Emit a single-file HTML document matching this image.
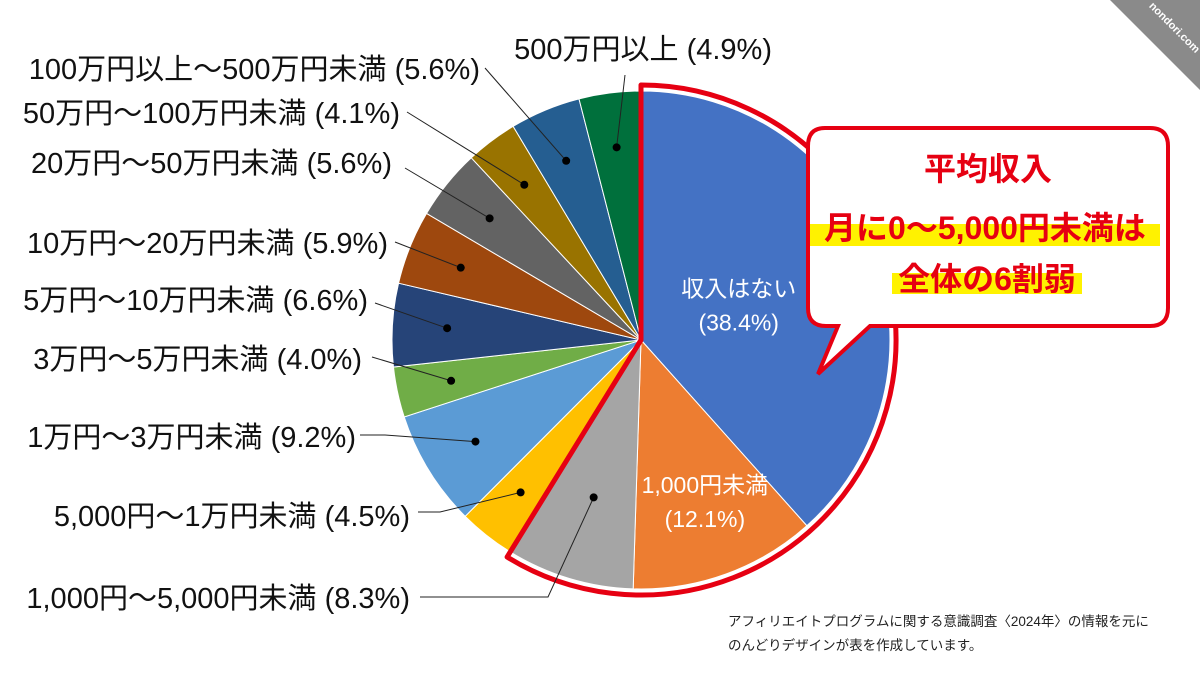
<!DOCTYPE html>
<html><head><meta charset="utf-8">
<style>
body{margin:0;background:#fff;}
svg{display:block;font-family:"Liberation Sans","Noto Sans CJK JP",sans-serif;}
</style></head>
<body>
<svg id="chart" width="1200" height="675" viewBox="0 0 1200 675" xmlns="http://www.w3.org/2000/svg">
<rect width="1200" height="675" fill="#fff"/>
<g id="slices"></g>
<g id="outline"></g>
<g id="labels"></g>
<g>
  <path d="M825,128 H1150 Q1168,128 1168,146 V308 Q1168,326 1150,326 H870 L818,374 L838,326 H826 Q808,326 808,308 V146 Q808,128 825,128 Z" fill="#fff" stroke="#e60012" stroke-width="4"/>
  <rect x="810" y="224" width="350" height="22" fill="#fff200"/>
  <rect x="892" y="273" width="190" height="21" fill="#fff200"/>
  <text x="988" y="180" text-anchor="middle" font-size="32" font-weight="bold" fill="#e60012">平均収入</text>
  <text x="985" y="239" text-anchor="middle" font-size="32" font-weight="bold" fill="#e60012">月に0〜5,000円未満は</text>
  <text x="987" y="290" text-anchor="middle" font-size="32" font-weight="bold" fill="#e60012">全体の6割弱</text>
</g>
<g>
  <text x="728" y="626" font-size="13.5" fill="#222">アフィリエイトプログラムに関する意識調査〈2024年〉の情報を元に</text>
  <text x="728" y="650" font-size="13.5" fill="#222">のんどりデザインが表を作成しています。</text>
</g>
<g>
  <polygon points="1110,0 1200,0 1200,90" fill="#8a8a8a"/>
  <text x="1172" y="30" font-size="11" fill="#fff" font-weight="bold" transform="rotate(45 1172 30)" text-anchor="middle">nondori.com</text>
</g>
</svg>
<script>
const categories=["収入はない","1,000円未満","1,000円〜5,000円未満","5,000円〜1万円未満","1万円〜3万円未満","3万円〜5万円未満","5万円〜10万円未満","10万円〜20万円未満","20万円〜50万円未満","50万円〜100万円未満","100万円以上〜500万円未満","500万円以上"];
const values=[38.4,12.1,8.3,4.5,9.2,4.0,6.6,5.9,5.6,4.1,5.6,4.9];
const colors=["#4472C4","#ED7D31","#A5A5A5","#FFC000","#5B9BD5","#70AD47","#264478","#9E480E","#636363","#997300","#255E91","#00703C"];
const NS="http://www.w3.org/2000/svg";
const cx=641,cy=340,r=249;
const headCount=3;
const headSum=values.slice(0,headCount).reduce((a,b)=>a+b,0);
const tailSum=values.slice(headCount).reduce((a,b)=>a+b,0);
const headAngle=Math.min(headSum/100,0.95)*Math.PI*2;
function angle(v,i){return i<headCount? v/headSum*headAngle : v/tailSum*(Math.PI*2-headAngle);}
function pt(a,rr){return [cx+rr*Math.sin(a),cy-rr*Math.cos(a)];}
const sl=document.getElementById('slices');
let a0=0;const mids=[];const starts=[];
values.forEach((v,i)=>{
  const a1=a0+angle(v,i);
  const p0=pt(a0,r),p1=pt(a1,r);
  const large=(a1-a0)>Math.PI?1:0;
  const p=document.createElementNS(NS,'path');
  p.setAttribute('d',`M${cx},${cy} L${p0[0]},${p0[1]} A${r},${r} 0 ${large} 1 ${p1[0]},${p1[1]} Z`);
  p.setAttribute('fill',colors[i]);p.setAttribute('stroke','#fff');p.setAttribute('stroke-width','1');
  
  
  sl.appendChild(p);
  starts.push(a0);mids.push((a0+a1)/2);a0=a1;
});
const endA=starts[headCount];const R=r+6;
const q0=pt(0,R),q1=pt(endA,R);
const ol=document.createElementNS(NS,'path');
ol.setAttribute('d',`M${cx},${cy} L${q0[0]},${q0[1]} A${R},${R} 0 ${endA>Math.PI?1:0} 1 ${q1[0]},${q1[1]} Z`);
ol.setAttribute('fill','none');ol.setAttribute('stroke','#e60012');ol.setAttribute('stroke-width','5');ol.setAttribute('stroke-linejoin','round');


document.getElementById('outline').appendChild(ol);
const lg=document.getElementById('labels');
function txt(x,y,s,fill,anchor,size,name){
  const t=document.createElementNS(NS,'text');
  t.setAttribute('x',x);t.setAttribute('y',y);t.setAttribute('fill',fill);
  t.setAttribute('font-size',size);t.setAttribute('text-anchor',anchor);
  t.textContent=s;
  
  
  lg.appendChild(t);
}
function lbl(i){return categories[i]+" ("+values[i].toFixed(1)+"%)";}
const innerR=[0.42,0.68];
[0,1].forEach(i=>{
  const p=pt(mids[i],r*innerR[i]);
  txt(p[0]+(i?6:0),p[1]-6,categories[i],'#fff','middle',23,'inner-label-'+(i+1));
  txt(p[0]+(i?6:0),p[1]+28,"("+values[i].toFixed(1)+"%)",'#fff','middle',23,'inner-value-'+(i+1));
});
const outer={2:[410,608,[[420,597],[548,597]]],3:[410,526,[[418,512],[440,512]]],4:[356,447,[[360,435],[385,435]]],
5:[362,369,[[372,357]]],6:[368,310,[[375,303]]],7:[388,253,[[395,242]]],8:[392,173,[[405,168]]],
9:[400,123,[[407,112]]],10:[480,79,[[485,68]]],11:[772,59,[[625,75]]]};
Object.keys(outer).forEach(k=>{
  const i=+k,o=outer[i];
  txt(o[0],o[1],lbl(i),'#111','end',29,'label-'+(i+1));
  const d=pt(mids[i],r*(i===2?0.66:0.78));
  const pts=o[2].concat([d]);
  const pl=document.createElementNS(NS,'polyline');
  pl.setAttribute('points',pts.map(p=>p.join(',')).join(' '));
  pl.setAttribute('fill','none');pl.setAttribute('stroke','#222');pl.setAttribute('stroke-width','1');
  
  
  lg.appendChild(pl);
  const c=document.createElementNS(NS,'circle');
  c.setAttribute('cx',d[0]);c.setAttribute('cy',d[1]);c.setAttribute('r',4);c.setAttribute('fill','#000');
  
  
  lg.appendChild(c);
});
</script>
</body></html>
